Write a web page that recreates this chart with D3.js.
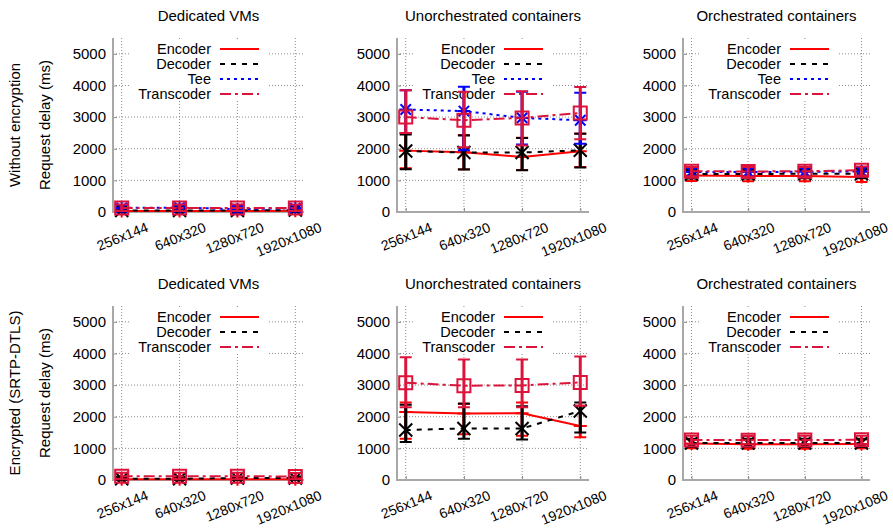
<!DOCTYPE html>
<html>
<head>
<meta charset="utf-8">
<script src="https://cdn.jsdelivr.net/npm/d3@7"></script>
<style>
  body { margin: 0; background: #fff; }
  text { font-family: "Liberation Sans", Arial, Helvetica, sans-serif; fill: #000; }
</style>
</head>
<body>
<div id="chart"></div>
<script>
const categories = ["256x144", "640x320", "1280x720", "1920x1080"];
const colTitles = ["Dedicated VMs", "Unorchestrated containers", "Orchestrated containers"];
const rowTitles = ["Without encryption", "Encrypted (SRTP-DTLS)"];
const yTicks = [0, 1000, 2000, 3000, 4000, 5000];

// each entry: [mean, low, high] for one resolution
const vmPlainEncoder    = [[30, 0, 80], [30, 0, 80], [30, 0, 80], [40, 0, 90]];
const vmPlainDecoder    = [[50, 0, 110], [50, 0, 110], [50, 0, 110], [60, 0, 120]];
const vmPlainTee        = [[130, 40, 220], [140, 40, 230], [90, 20, 190], [120, 30, 210]];
const vmPlainTranscoder = [[130, 30, 240], [130, 30, 240], [130, 30, 240], [130, 30, 240]];

const unPlainEncoder    = [[1940, 1380, 2500], [1890, 1350, 2430], [1740, 1330, 2350], [1920, 1420, 2480]];
const unPlainDecoder    = [[1930, 1350, 2450], [1880, 1340, 2420], [1880, 1320, 2340], [1950, 1410, 2470]];
const unPlainTee        = [[3240, 2500, 3850], [3190, 1950, 3960], [2975, 2130, 3800], [2900, 2160, 3770]];
const unPlainTranscoder = [[3000, 2500, 3850], [2900, 2050, 3800], [2975, 2100, 3820], [3130, 2300, 3950]];

const orPlainEncoder    = [[1150, 980, 1300], [1140, 970, 1290], [1140, 970, 1290], [1110, 950, 1270]];
const orPlainDecoder    = [[1200, 1060, 1340], [1200, 1060, 1340], [1210, 1070, 1350], [1210, 1070, 1350]];
const orPlainTee        = [[1265, 1130, 1400], [1265, 1130, 1400], [1270, 1130, 1410], [1280, 1140, 1420]];
const orPlainTranscoder = [[1290, 1130, 1420], [1280, 1120, 1420], [1290, 1130, 1420], [1320, 1150, 1440]];

const vmEncEncoder      = [[20, 0, 70], [20, 0, 70], [20, 0, 70], [20, 0, 70]];
const vmEncDecoder      = [[40, 0, 100], [40, 0, 100], [60, 0, 110], [60, 0, 110]];
const vmEncTranscoder   = [[120, 20, 230], [120, 20, 230], [120, 20, 230], [110, 20, 220]];

const unEncEncoder      = [[2150, 1300, 2450], [2100, 1450, 2400], [2110, 1400, 2450], [1710, 1350, 2350]];
const unEncDecoder      = [[1580, 1200, 2380], [1630, 1300, 2420], [1630, 1280, 2330], [2180, 1500, 2450]];
const unEncTranscoder   = [[3075, 2300, 3880], [2980, 2300, 3810], [2990, 2300, 3810], [3085, 2350, 3900]];

const orEncEncoder      = [[1150, 1000, 1290], [1130, 990, 1270], [1130, 990, 1270], [1140, 1000, 1280]];
const orEncDecoder      = [[1170, 1040, 1300], [1170, 1040, 1300], [1170, 1040, 1300], [1170, 1040, 1300]];
const orEncTranscoder   = [[1265, 1130, 1400], [1260, 1130, 1390], [1265, 1130, 1400], [1270, 1130, 1400]];

const panels = [
  {row: 0, col: 0, series: [["Encoder", vmPlainEncoder], ["Decoder", vmPlainDecoder], ["Tee", vmPlainTee], ["Transcoder", vmPlainTranscoder]]},
  {row: 0, col: 1, series: [["Encoder", unPlainEncoder], ["Decoder", unPlainDecoder], ["Tee", unPlainTee], ["Transcoder", unPlainTranscoder]]},
  {row: 0, col: 2, series: [["Encoder", orPlainEncoder], ["Decoder", orPlainDecoder], ["Tee", orPlainTee], ["Transcoder", orPlainTranscoder]]},
  {row: 1, col: 0, series: [["Encoder", vmEncEncoder], ["Decoder", vmEncDecoder], ["Transcoder", vmEncTranscoder]]},
  {row: 1, col: 1, series: [["Encoder", unEncEncoder], ["Decoder", unEncDecoder], ["Transcoder", unEncTranscoder]]},
  {row: 1, col: 2, series: [["Encoder", orEncEncoder], ["Decoder", orEncDecoder], ["Transcoder", orEncTranscoder]]}
];

const styles = {
  Encoder:    {color: "#ff0000", dash: null,       marker: "plus"},
  Decoder:    {color: "#000000", dash: "5,6",      marker: "x"},
  Tee:        {color: "#0000ff", dash: "3,4",      marker: "star"},
  Transcoder: {color: "#dc143c", dash: "11,4,3,4", marker: "square"}
};

const svgWidth = 893, svgHeight = 529;
const lefts = [113, 397, 683],
      widths = [191, 192, 187],
      tops = [38, 306],
      plotH = 174,
      fontSize = "15px";

const svg = d3.select("#chart").append("svg")
    .attr("width", svgWidth)
    .attr("height", svgHeight);

function markerPath(type, r) {
  if (type === "plus") return `M${-r},0H${r}M0,${-r}V${r}`;
  if (type === "x") return `M${-r},${-r}L${r},${r}M${-r},${r}L${r},${-r}`;
  if (type === "star") {
    let q = r * 0.8;
    return `M${-r},0H${r}M0,${-r}V${r}M${-q},${-q}L${q},${q}M${-q},${q}L${q},${-q}`;
  }
  return `M${-r},${-r}H${r}V${r}H${-r}Z`;
}

//Row labels on the left
rowTitles.forEach((t, i) => {
  let cy = tops[i] + plotH / 2;
  svg.append("text")
      .attr("transform", `translate(20, ${cy}) rotate(-90)`)
      .attr("text-anchor", "middle")
      .style("font-size", fontSize)
      .text(t);
  svg.append("text")
      .attr("transform", `translate(50, ${cy}) rotate(-90)`)
      .attr("text-anchor", "middle")
      .style("font-size", fontSize)
      .text("Request delay (ms)");
});

panels.forEach(p => {
  let w = widths[p.col];
  let g = svg.append("g")
      .attr("transform", `translate(${lefts[p.col]}, ${tops[p.row]})`);

  let x = d3.scalePoint().domain(categories).range([0, w]).padding(0.15),
      y = d3.scaleLinear().domain([0, 5500]).range([plotH, 0]);

  //title
  g.append("text")
      .attr("x", w / 2)
      .attr("y", -17)
      .attr("text-anchor", "middle")
      .style("font-size", fontSize)
      .text(colTitles[p.col]);

  //grid
  let grid = g.append("g")
      .attr("stroke", "#8c8c8c")
      .attr("stroke-width", 1)
      .attr("stroke-dasharray", "1,2");
  grid.selectAll("line.h")
      .data(yTicks.filter(d => d > 0))
      .enter().append("line")
      .attr("x1", 0).attr("x2", w)
      .attr("y1", d => y(d)).attr("y2", d => y(d));
  grid.selectAll("line.v")
      .data(categories)
      .enter().append("line")
      .attr("x1", d => x(d)).attr("x2", d => x(d))
      .attr("y1", 0).attr("y2", plotH);

  //axes
  let yAxis = g.append("g")
      .call(d3.axisLeft(y).tickValues(yTicks).tickFormat(d3.format("d")).tickSize(-4).tickPadding(7));
  yAxis.select(".domain").remove();
  yAxis.selectAll("line").attr("stroke", "#888").attr("stroke-width", 1);
  yAxis.selectAll("text")
      .style("font-size", fontSize)
      .style("font-family", "'Liberation Sans', Arial, sans-serif");

  let xAxis = g.append("g")
      .attr("transform", `translate(0, ${plotH})`)
      .call(d3.axisBottom(x).tickSize(-4).tickPadding(0));
  xAxis.select(".domain").remove();
  xAxis.selectAll("line").attr("stroke", "#888").attr("stroke-width", 1);
  xAxis.selectAll("text")
      .attr("y", 0)
      .attr("dy", null)
      .attr("text-anchor", "end")
      .attr("transform", "translate(27, 19) rotate(-22)")
      .style("font-size", "14px")
      .style("font-family", "'Liberation Sans', Arial, sans-serif");

  g.append("path")
      .attr("d", `M0,0V${plotH}H${w}`)
      .attr("fill", "none")
      .attr("stroke", "#a8a8a8")
      .attr("stroke-width", 2);

  //legend box hides the grid under it
  let n = p.series.length;
  g.append("rect")
      .attr("x", 18).attr("y", 1)
      .attr("width", 138).attr("height", 15 * n + 2)
      .attr("fill", "#fff");
  p.series.forEach((s, i) => {
    let st = styles[s[0]], ly = 11 + 15 * i;
    g.append("text")
        .attr("x", 98).attr("y", ly)
        .attr("text-anchor", "end")
        .attr("dominant-baseline", "central")
        .style("font-size", "14.5px")
        .text(s[0]);
    g.append("line")
        .attr("x1", 107).attr("x2", 146)
        .attr("y1", ly).attr("y2", ly)
        .attr("stroke", st.color)
        .attr("stroke-width", 2)
        .attr("stroke-dasharray", st.dash);
  });

  //data series
  p.series.forEach(s => {
    let st = styles[s[0]], vals = s[1];
    let pts = vals.map((v, i) => ({cat: categories[i], m: v[0], lo: v[1], hi: v[2]}));
    let sg = g.append("g");

    sg.append("path")
        .datum(pts)
        .attr("fill", "none")
        .attr("stroke", st.color)
        .attr("stroke-width", 2)
        .attr("stroke-dasharray", st.dash)
        .attr("d", d3.line().x(d => x(d.cat)).y(d => y(d.m)));

    let eb = sg.selectAll(".eb")
        .data(pts)
        .enter().append("g")
        .attr("transform", d => `translate(${x(d.cat)}, 0)`)
        .attr("stroke", st.color)
        .attr("fill", "none");
    eb.append("line")
        .attr("y1", d => y(d.lo)).attr("y2", d => y(d.hi))
        .attr("stroke-width", 3);
    eb.append("path")
        .attr("d", d => `M-6,${y(d.lo)}H6M-6,${y(d.hi)}H6`)
        .attr("stroke-width", 2);
    eb.append("path")
        .attr("transform", d => `translate(0, ${y(d.m)})`)
        .attr("d", markerPath(st.marker, 6.5))
        .attr("stroke-width", 2);
  });
});
</script>
</body>
</html>
